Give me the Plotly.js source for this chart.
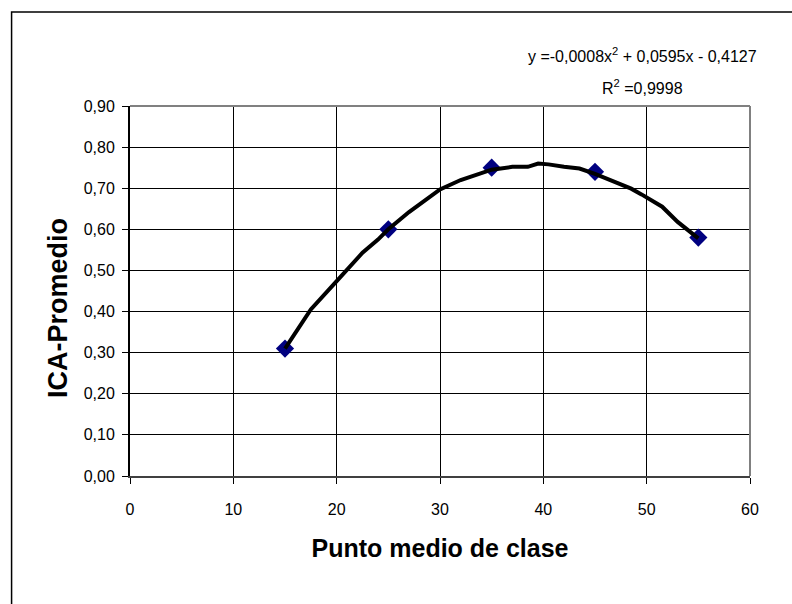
<!DOCTYPE html>
<html>
<head>
<meta charset="utf-8">
<script src="https://cdn.plot.ly/plotly-3.0.1.min.js"></script>
<style>
  html, body { margin: 0; padding: 0; background: #ffffff; }
  #chart { width: 792px; height: 604px; }
</style>
</head>
<body>
<div id="chart"></div>
<script>
// Class midpoints and mean ICA per class
const midpoints = [15, 25, 35, 45, 55];
const icaMean = [0.31, 0.60, 0.75, 0.74, 0.58];

// Polynomial (order 2) trendline as drawn through the points
const trendX = [15, 17.5, 20, 22.5, 24, 25, 27, 28.5, 30, 32, 35, 37, 38.5, 39.5, 40.5, 42, 43.5, 45, 46.5, 48.5, 49.5, 51.5, 53, 55];
const trendY = [0.31, 0.405, 0.474, 0.543, 0.575, 0.60, 0.642, 0.670, 0.697, 0.720, 0.745, 0.752, 0.752, 0.760, 0.758, 0.752, 0.748, 0.735, 0.720, 0.699, 0.685, 0.655, 0.618, 0.578];

// Trendline label
const equationText = 'y =-0,0008x<sup>2</sup> + 0,0595x - 0,4127';
const r2Text = 'R<sup>2</sup> =0,9998';

const xTitle = 'Punto medio de clase';
const yTitle = 'ICA-Promedio';

const FONT = 'Liberation Sans, Arial, sans-serif';

const traces = [
  {
    x: midpoints,
    y: icaMean,
    type: 'scatter',
    mode: 'markers',
    marker: { symbol: 'diamond', size: 14, color: '#000080', line: { width: 0 } },
    hoverinfo: 'x+y'
  },
  {
    x: trendX,
    y: trendY,
    type: 'scatter',
    mode: 'lines',
    line: { color: '#000000', width: 4, shape: 'linear' },
    hoverinfo: 'skip'
  }
];

const layout = {
  width: 792,
  height: 604,
  margin: { l: 130, r: 42, t: 106, b: 128 },
  paper_bgcolor: '#ffffff',
  plot_bgcolor: '#ffffff',
  showlegend: false,
  separators: ',.',
  font: { family: FONT, size: 16, color: '#000000' },
  xaxis: {
    range: [0, 60],
    tickmode: 'linear',
    tick0: 0,
    dtick: 10,
    ticks: 'outside',
    ticklen: 6,
    tickwidth: 1,
    tickcolor: '#000000',
    ticklabelstandoff: 12,
    showline: true,
    linecolor: '#404040',
    linewidth: 2,
    showgrid: true,
    gridcolor: '#000000',
    gridwidth: 1,
    zeroline: false,
    tickfont: { family: FONT, size: 16, color: '#000000' },
    title: {
      text: xTitle,
      font: { family: FONT, size: 25, color: '#000000', weight: 'bold' },
      standoff: 22
    }
  },
  yaxis: {
    range: [0, 0.9],
    tickmode: 'linear',
    tick0: 0,
    dtick: 0.1,
    tickformat: '.2f',
    ticks: 'outside',
    ticklen: 6,
    tickwidth: 1,
    tickcolor: '#000000',
    ticklabelstandoff: 4,
    showline: true,
    linecolor: '#000000',
    linewidth: 2,
    showgrid: true,
    gridcolor: '#000000',
    gridwidth: 1,
    zeroline: false,
    tickfont: { family: FONT, size: 16, color: '#000000' }
  },
  shapes: [
    // plot-area frame on the top and right
    { type: 'line', xref: 'paper', yref: 'paper', x0: 0, x1: 1, y0: 1, y1: 1,
      line: { color: '#808080', width: 2 } },
    { type: 'line', xref: 'paper', yref: 'paper', x0: 1, x1: 1, y0: 0, y1: 1,
      line: { color: '#808080', width: 2 } },
    // chart-area border
    { type: 'rect', xref: 'paper', yref: 'paper', x0: -0.191, x1: 1.2, y0: -0.5, y1: 1.254,
      line: { color: '#000000', width: 1.5 }, fillcolor: 'rgba(0,0,0,0)' }
  ],
  annotations: [
    { xref: 'paper', yref: 'paper', x: 0.826, y: 1.138, xanchor: 'center', yanchor: 'middle',
      text: equationText, showarrow: false, font: { family: FONT, size: 16, color: '#000000' } },
    { xref: 'paper', yref: 'paper', x: 0.826, y: 1.051, xanchor: 'center', yanchor: 'middle',
      text: r2Text, showarrow: false, font: { family: FONT, size: 16, color: '#000000' } },
    { xref: 'paper', yref: 'paper', x: -0.116, y: 0.454, xanchor: 'center', yanchor: 'middle',
      textangle: -90, text: yTitle, showarrow: false,
      font: { family: FONT, size: 27, color: '#000000', weight: 'bold' } }
  ]
};

Plotly.newPlot('chart', traces, layout, { displayModeBar: false, staticPlot: true });
</script>
</body>
</html>
